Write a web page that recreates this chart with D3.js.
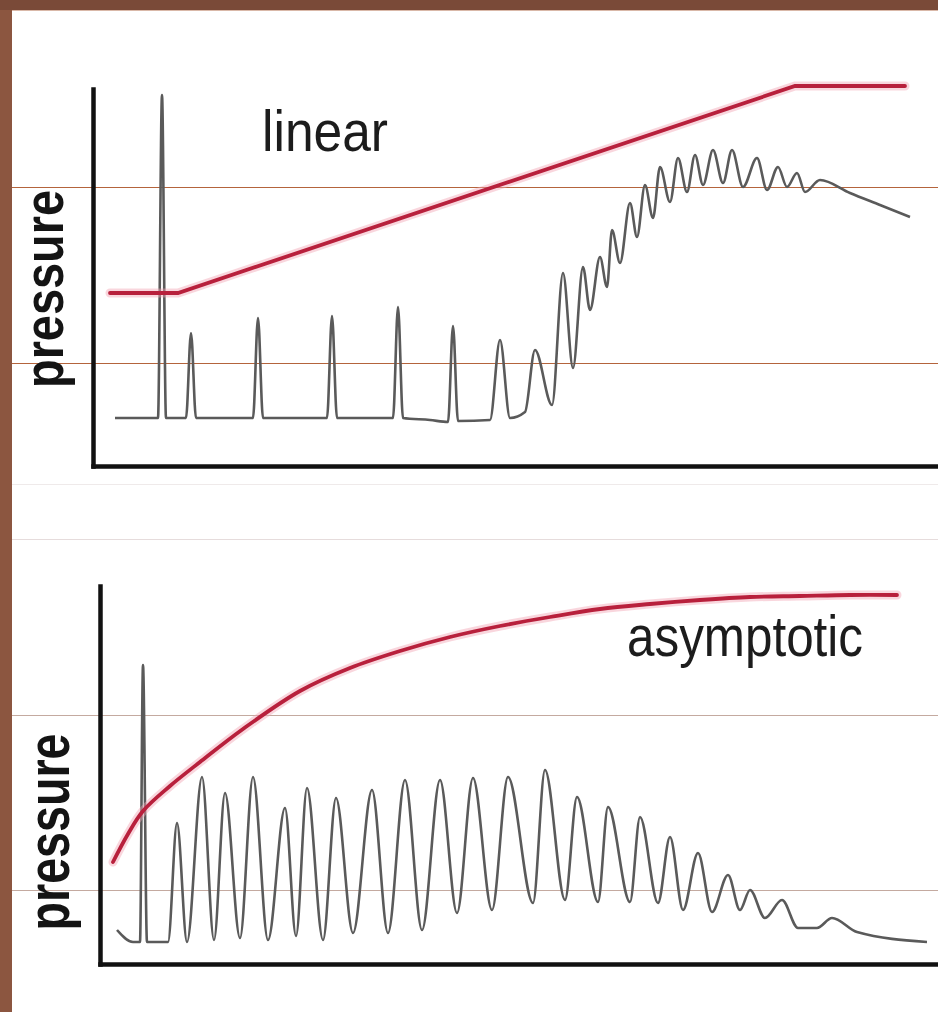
<!DOCTYPE html>
<html><head><meta charset="utf-8">
<script src="https://cdn.jsdelivr.net/npm/d3@7"></script>
<style>html,body{margin:0;padding:0;background:#8c5640;}svg{display:block;}</style>
</head><body>
<script>
// ---- data (time units / pressure units) ----
const titles = ["linear", "asymptotic"];
const yLabel = "pressure";

// top panel: pressure trace
const topTime = [2.2,6.5,6.9,7.3,9.3,9.8,10.3,16.0,16.5,17.0,23.4,23.9,24.4,30.0,30.5,31.0,33.7,35.5,36.0,36.5,39.7,40.7,41.7,43.2,44.2,45.9,47.0,48.0,49.0,49.7,50.7,51.4,51.9,52.7,53.7,54.4,55.2,56.0,56.7,57.7,58.5,59.4,60.2,61.0,62.0,63.0,63.9,65.0,66.4,67.4,68.5,69.4,70.4,71.2,72.7,75.7,78.7,81.7];
const topPressure = [4.8,4.8,37.1,4.8,4.8,13.3,4.8,4.8,14.8,4.8,4.8,15.0,4.8,4.8,15.9,4.8,4.6,4.4,14.0,4.5,4.6,12.6,4.8,5.4,11.6,6.1,19.3,9.8,19.9,15.6,20.9,17.9,23.6,20.3,26.3,22.9,28.1,24.8,29.9,26.4,30.8,27.4,31.1,28.1,31.6,28.3,31.6,27.9,30.8,27.6,29.9,27.9,29.3,27.4,28.6,27.3,26.1,24.9];
// top panel: linear ramp
const topRampTime = [1.7, 8.5, 70.2, 81.2];
const topRampPressure = [17.3, 17.3, 38.0, 38.0];

// bottom panel: pressure trace
const botTime = [1.7,3.3,4.0,4.3,4.7,6.8,7.7,8.7,10.2,11.4,12.5,14.0,15.3,16.8,18.5,19.6,20.7,22.3,23.6,25.3,27.2,28.8,30.5,32.2,34.0,35.7,37.3,39.2,40.8,43.3,44.5,46.5,47.7,49.8,50.8,53.0,54.0,55.8,57.0,58.3,59.8,61.2,62.8,64.0,65.0,66.5,68.2,69.8,71.7,73.2,75.7,82.7];
const botPressure = [3.4,2.2,2.2,29.9,2.2,2.2,14.1,2.2,18.7,2.4,17.1,2.6,18.7,2.4,15.6,2.8,17.6,2.4,16.6,3.1,17.4,3.1,18.4,3.4,18.4,5.1,18.6,5.4,18.7,6.1,19.4,6.4,16.7,6.2,15.7,6.2,14.7,6.1,12.7,5.4,11.1,5.2,8.9,5.4,7.4,4.6,6.4,3.6,3.6,4.6,3.2,2.2];
// bottom panel: asymptotic ramp
const botRampTime = [1.3,2.8,4.3,7.0,10.0,14.3,20.0,25.0,30.0,35.0,40.0,45.0,50.0,55.0,60.0,65.0,70.0,75.0,79.7];
const botRampPressure = [10.2,13.0,15.3,17.8,20.2,23.5,27.3,29.6,31.3,32.7,33.8,34.7,35.5,36.0,36.4,36.7,36.8,36.9,36.9];

// ---- drawing ----
const W = 938, H = 1012;
const svg = d3.select("body").append("svg").attr("width", W).attr("height", H);

// slide background
svg.append("rect").attr("x",0).attr("y",0).attr("width",W).attr("height",H).attr("fill","#8c5640");
svg.append("rect").attr("x",0).attr("y",0).attr("width",W).attr("height",10).attr("fill","#7a4a38");
svg.append("rect").attr("x",12).attr("y",10).attr("width",W-12).attr("height",H-10).attr("fill","#ffffff");
svg.append("line").attr("x1",12).attr("x2",W).attr("y1",10.5).attr("y2",10.5).attr("stroke","#d9b8a8").attr("stroke-width",1);

// faint slide rules showing through
const rules = [[187,"#b4643c"],[363,"#b4643c"],[484,"#efeaea"],[539,"#e6dcdc"],[715,"#c4aaa0"],[890,"#c4aaa0"]];
rules.forEach(([y,c]) => svg.append("line").attr("x1",12).attr("x2",W).attr("y1",y+0.5).attr("y2",y+0.5).attr("stroke",c).attr("stroke-width",1));

function panel(cfg){
  const x = d3.scaleLinear().domain(cfg.xDomain).range(cfg.xRange);
  const y = d3.scaleLinear().domain(cfg.yDomain).range(cfg.yRange);
  const g = svg.append("g");

  // axes: plain lines, no ticks
  const yAx = g.append("g").attr("transform",`translate(${cfg.xRange[0]},0)`)
    .call(d3.axisLeft(y).ticks(0).tickSizeOuter(0));
  const xAx = g.append("g").attr("transform",`translate(0,${cfg.yRange[0]})`)
    .call(d3.axisBottom(x).ticks(0).tickSizeOuter(0));
  [yAx,xAx].forEach(a => a.select(".domain").attr("stroke","#111").attr("stroke-width",4.5).attr("stroke-linecap","square"));

  // trace
  const trace = d3.line().x(d=>x(d[0])).y(d=>y(d[1])).curve(d3.curveMonotoneX);
  g.append("path").datum(d3.zip(cfg.t, cfg.p))
    .attr("d", trace).attr("fill","none").attr("stroke","#5a5a5a").attr("stroke-width",2.6)
    .attr("stroke-linejoin","round");

  // ramp
  const ramp = d3.line().x(d=>x(d[0])).y(d=>y(d[1])).curve(cfg.rampCurve);
  const rd = d3.zip(cfg.rt, cfg.rp);
  g.append("path").datum(rd).attr("d", ramp).attr("fill","none")
    .attr("stroke","#f2a3b4").attr("stroke-opacity",0.45).attr("stroke-width",9).attr("stroke-linecap","round");
  g.append("path").datum(rd).attr("d", ramp).attr("fill","none")
    .attr("stroke","#b8203c").attr("stroke-width",3.8).attr("stroke-linecap","round");

  // labels
  g.append("text").text(cfg.title)
    .attr("x", cfg.titlePos[0]).attr("y", cfg.titlePos[1])
    .attr("font-family","Liberation Sans, Arial, sans-serif").attr("font-size",58)
    .attr("fill","#1c1c1c").attr("textLength", cfg.titleLen).attr("lengthAdjust","spacingAndGlyphs");
  g.append("text").text(yLabel)
    .attr("transform",`translate(${cfg.labelPos[0]},${cfg.labelPos[1]}) rotate(-90)`)
    .attr("text-anchor","middle")
    .attr("font-family","Liberation Sans, Arial, sans-serif").attr("font-weight","bold").attr("font-size",cfg.labelSize)
    .attr("fill","#141414").attr("textLength", cfg.labelLen).attr("lengthAdjust","spacingAndGlyphs");
}

panel({
  xDomain:[0,84.5], xRange:[93,938], yDomain:[0,37.7], yRange:[466,89],
  t: topTime, p: topPressure, rt: topRampTime, rp: topRampPressure, rampCurve: d3.curveLinear,
  title: titles[0], titlePos:[262,151], titleLen:126,
  labelPos:[63,289], labelSize:56, labelLen:198
});
panel({
  xDomain:[0,83.8], xRange:[100,938], yDomain:[0,37.8], yRange:[964,586],
  t: botTime, p: botPressure, rt: botRampTime, rp: botRampPressure, rampCurve: d3.curveCatmullRom,
  title: titles[1], titlePos:[627,656], titleLen:236,
  labelPos:[69,832], labelSize:60, labelLen:197
});
</script>
</body></html>
